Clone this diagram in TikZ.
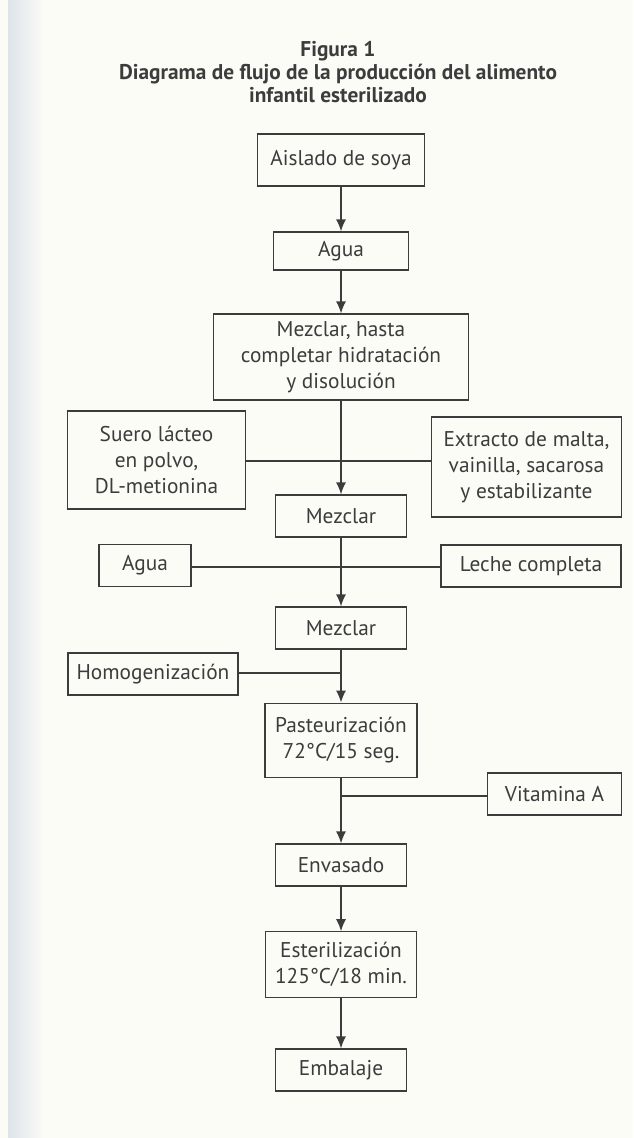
\documentclass[tikz,border=0pt]{standalone}
\usepackage{fontspec}
\setmainfont{PT Sans}
\usetikzlibrary{arrows.meta,calc}
\definecolor{ink}{RGB}{60, 60, 60}
\definecolor{paper}{RGB}{252, 252, 247}
\definecolor{edge}{RGB}{222, 228, 234}
\tikzstyle{box}=[rectangle,draw=ink,text=ink,line width=0.9pt,inner sep=2pt,
  align=center,font=\fontsize{16}{19.5}\selectfont]
\tikzstyle{flow}=[draw=ink,line width=1.1pt,-{Latex[length=9pt,width=7.5pt]}]
\tikzstyle{feed}=[draw=ink,line width=1.1pt]
\tikzstyle{none}=[]

\begin{document}
\begin{tikzpicture}[x=0.75pt,y=-0.75pt]
        \fill [paper] (0, 0) rectangle (633, 1138);
        \shade [left color=edge, right color=paper] (8, 0) rectangle (45, 1138);
        \useasboundingbox (0, 0) rectangle (633, 1138);
        \node [text=ink, align=center, font=\bfseries\fontsize{16}{17.5}\selectfont] (t) at (338, 72)
          {Figura 1\\ Diagrama de flujo de la producción del alimento\\ infantil esterilizado};
        \node [style=box, minimum width=125pt, minimum height=39pt] (0) at (341, 160) {Aislado de soya};
        \node [style=box, minimum width=101pt, minimum height=28.5pt] (1) at (341, 251) {Agua};
        \node [style=box, minimum width=191pt, minimum height=64.5pt] (2) at (341, 357) {Mezclar, hasta\\ completar hidratación\\ y disolución};
        \node [style=box, minimum width=133pt, minimum height=73.5pt] (3) at (156.5, 460) {Suero lácteo\\ en polvo,\\ DL-metionina};
        \node [style=box, minimum width=142pt, minimum height=75pt] (4) at (526.5, 467) {Extracto de malta,\\ vainilla, sacarosa\\ y estabilizante};
        \node [style=box, minimum width=98pt, minimum height=31.5pt] (5) at (341, 516) {Mezclar};
        \node [style=box, minimum width=69pt, minimum height=32pt] (6) at (145, 565.5) {Agua};
        \node [style=box, minimum width=135pt, minimum height=31.5pt] (7) at (531, 566) {Leche completa};
        \node [style=box, minimum width=98pt, minimum height=31.5pt] (8) at (341, 628) {Mezclar};
        \node [style=box, minimum width=127.5pt, minimum height=31.5pt] (9) at (153, 674) {Homogenización};
        \node [style=box, minimum width=114pt, minimum height=56pt] (10) at (341, 740.5) {Pasteurización\\ 72°C/15 seg.};
        \node [style=box, minimum width=100pt, minimum height=31.5pt] (11) at (554.5, 794) {Vitamina A};
        \node [style=box, minimum width=98pt, minimum height=31.5pt] (12) at (341, 865) {Envasado};
        \node [style=box, minimum width=113pt, minimum height=49pt] (13) at (341, 964.5) {Esterilización\\ 125°C/18 min.};
        \node [style=box, minimum width=98pt, minimum height=31.5pt] (14) at (341, 1070) {Embalaje};
        \node [style=none] (20) at (341, 461) {};
        \node [style=none] (21) at (341, 567) {};
        \node [style=none] (22) at (341, 673) {};
        \node [style=none] (23) at (341, 796) {};
        \draw [style=flow] (0) to (1);
        \draw [style=flow] (1) to (2);
        \draw [style=flow] (2) to (5);
        \draw [style=flow] (5) to (8);
        \draw [style=flow] (8) to (10);
        \draw [style=flow] (10) to (12);
        \draw [style=flow] (12) to (13);
        \draw [style=flow] (13) to (14);
        \draw [style=feed] (20.center -| 3.east) to (20.center -| 4.west);
        \draw [style=feed] (21.center -| 6.east) to (21.center -| 7.west);
        \draw [style=feed] (22.center -| 9.east) to (22.center);
        \draw [style=feed] (23.center -| 11.west) to (23.center);
\end{tikzpicture}
\end{document}
